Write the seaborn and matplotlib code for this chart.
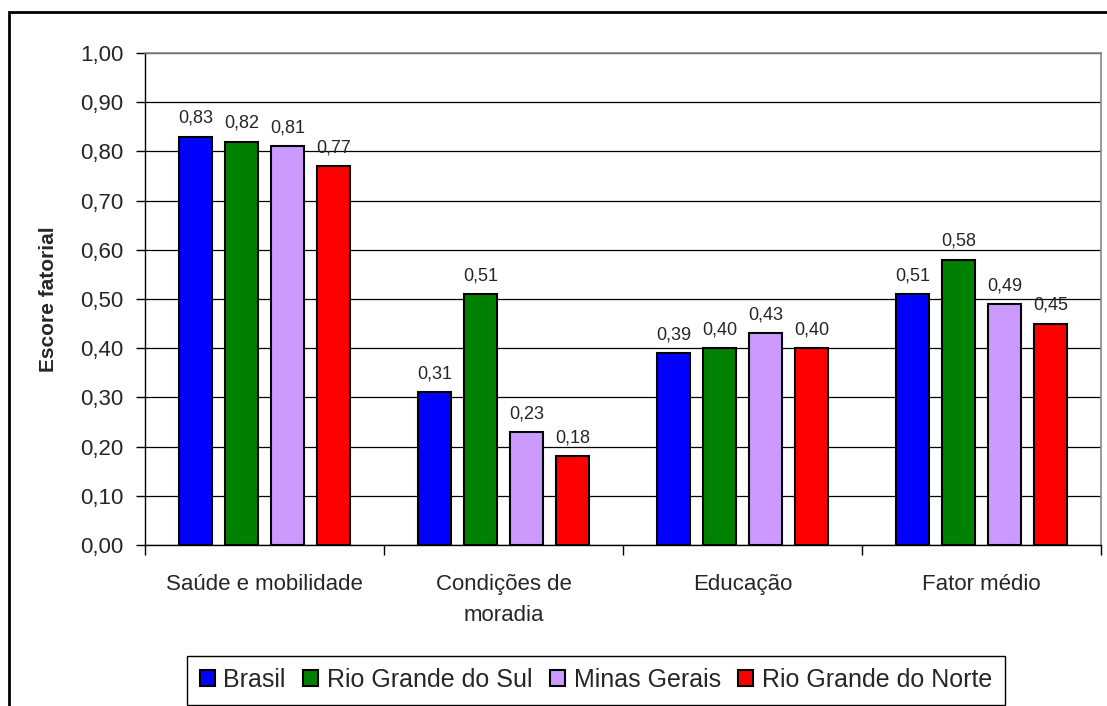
import pandas as pd
import matplotlib.pyplot as plt
from matplotlib.patches import Rectangle
import seaborn as sns

# data
categories = ['Saúde e mobilidade', 'Condições de\nmoradia', 'Educação', 'Fator médio']
regions = ['Brasil', 'Rio Grande do Sul', 'Minas Gerais', 'Rio Grande do Norte']
brasil = [0.83, 0.31, 0.39, 0.51]
rio_grande_sul = [0.82, 0.51, 0.40, 0.58]
minas_gerais = [0.81, 0.23, 0.43, 0.49]
rio_grande_norte = [0.77, 0.18, 0.40, 0.45]
colors = ['#0000FF', '#008000', '#CC99FF', '#FF0000']

rows = []
for reg, vals in zip(regions, [brasil, rio_grande_sul, minas_gerais, rio_grande_norte]):
    for cat, v in zip(categories, vals):
        rows.append({'Categoria': cat, 'Regiao': reg, 'Escore': v})
df = pd.DataFrame(rows)

sns.set_style('white')
plt.rcParams['font.family'] = ['Liberation Sans', 'DejaVu Sans']

fig = plt.figure(figsize=(11.07, 7.06), dpi=100)
ax = fig.add_axes([145 / 1107, 1 - 545 / 706, (1101 - 145) / 1107, (545 - 53) / 706])

sns.barplot(data=df, x='Categoria', y='Escore', hue='Regiao', order=categories,
            hue_order=regions, palette=colors, width=0.77, gap=0.28,
            edgecolor='black', linewidth=1.5, saturation=1, errorbar=None, ax=ax)

for cont in ax.containers:
    ax.bar_label(cont, labels=[f'{b.get_height():.2f}'.replace('.', ',') for b in cont],
                 padding=7, fontsize=13)

ax.set_ylim(0, 1.0)
ax.set_xlim(-0.5, 3.5)
yt = [i / 10 for i in range(11)]
ax.set_yticks(yt)
ax.set_yticklabels([f'{t:.2f}'.replace('.', ',') for t in yt], fontsize=16)
ax.yaxis.grid(True, color='black', linewidth=0.9)
ax.set_axisbelow(True)
ax.set_xticks(range(4))
ax.set_xticklabels(categories, fontsize=16, linespacing=1.6)
ax.tick_params(axis='x', length=0, pad=21)
ax.tick_params(axis='y', direction='out', length=6.5, width=1, color='black', pad=9, left=True)
# category boundary ticks
ax.set_xticks([-0.5, 0.5, 1.5, 2.5, 3.5], minor=True)
ax.tick_params(axis='x', which='minor', direction='out', length=7, width=1, color='black', bottom=True)
ax.set_xlabel('')
ax.set_ylabel('Escore fatorial', fontsize=15, fontweight='bold', labelpad=16)

for side in ['top', 'right']:
    ax.spines[side].set_color('#888888')
    ax.spines[side].set_linewidth(1.2)
for side in ['left', 'bottom']:
    ax.spines[side].set_color('black')
    ax.spines[side].set_linewidth(1)

ax.legend_.remove()
handles = [Rectangle((0, 0), 1, 1, facecolor=c, edgecolor='black', linewidth=1.5) for c in colors]
fig.legend(handles, regions, loc='center', bbox_to_anchor=(596 / 1107, 1 - 680 / 706),
           ncol=4, fontsize=18, frameon=True, fancybox=False, edgecolor='black',
           handlelength=0.6, handleheight=0.6, handletextpad=0.35, columnspacing=0.7,
           borderpad=0.5, framealpha=1)

# outer chart frame
fig.add_artist(Rectangle((9 / 1107, -0.1), 1.2, 1 - 12 / 706 + 0.1, transform=fig.transFigure,
                         fill=False, edgecolor='black', linewidth=2))

fig.savefig('out.png', dpi=100)
